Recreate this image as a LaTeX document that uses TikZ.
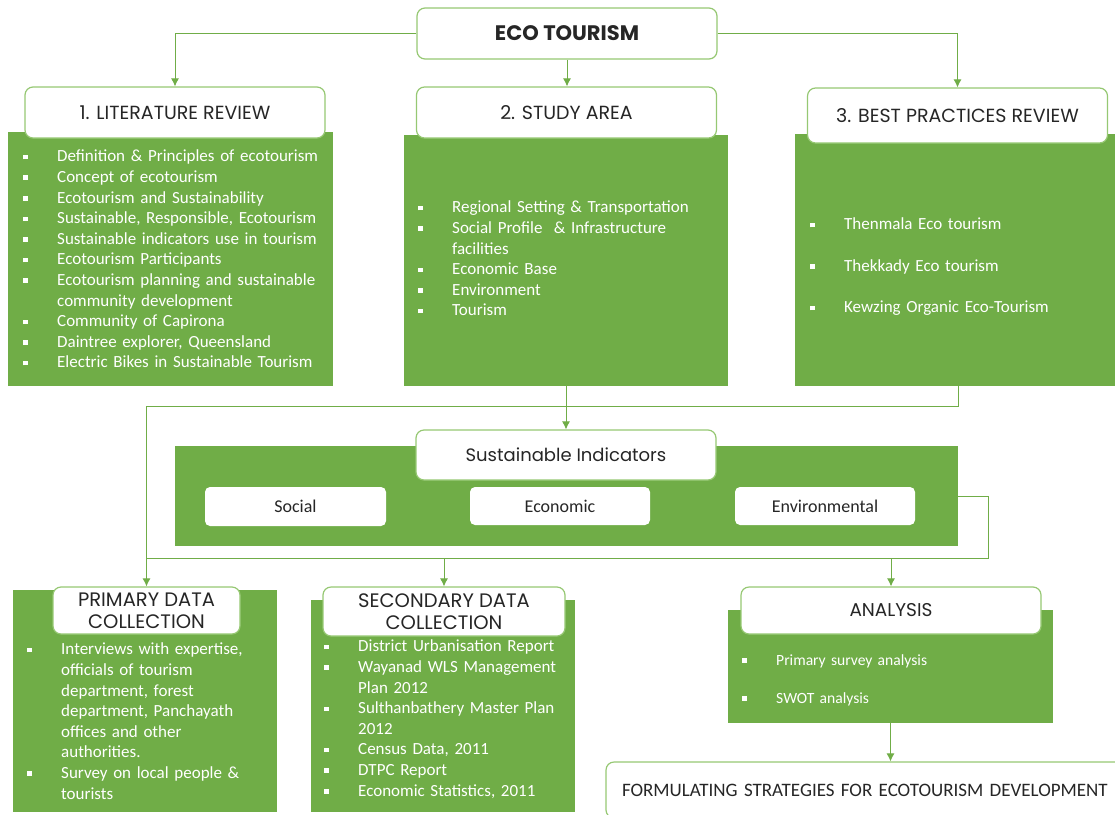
\documentclass[tikz,border=0pt]{standalone}
\usepackage{fontspec}
\setmainfont{Carlito}
\newfontfamily\gotica{Poppins}
\usetikzlibrary{positioning,arrows.meta}
\definecolor{verde}{RGB}{112,173,71}
\definecolor{bordeverde}{RGB}{150,200,115}
\definecolor{tinta}{RGB}{38,38,38}

% lista con cuadraditos blancos
\newenvironment{puntos}[2][0pt]{%
  \begin{list}{\rule[0.3ex]{4.5pt}{4.5pt}}{%
    \setlength{\leftmargin}{#2}\setlength{\labelwidth}{#2}%
    \setlength{\labelsep}{0pt}\setlength{\itemsep}{#1}%
    \setlength{\parsep}{0pt}\setlength{\topsep}{0pt}\setlength{\partopsep}{0pt}%
    \renewcommand{\makelabel}[1]{##1\hfil}}}%
  {\end{list}}

\begin{document}
\begin{tikzpicture}[x=1pt,y=-1pt]
\tikzset{
    panel/.style={rectangle, fill=verde, draw=none, inner sep=0pt, outer sep=0pt},
    cabecera/.style={rectangle, rounded corners=8pt, draw=bordeverde, fill=white, line width=1.2pt,
                     inner sep=0pt, minimum width=300pt, minimum height=51pt, align=center,
                     text=tinta, font=\gotica\fontsize{19}{22}\selectfont},
    indicador/.style={rectangle, rounded corners=5pt, fill=white, draw=none, inner sep=0pt,
                      minimum width=180pt, minimum height=38pt, text=tinta, font=\fontsize{18}{20}\selectfont},
    lista/.style={anchor=north west, inner sep=0pt, text=white, align=left,
                  font=\fontsize{17}{20.6}\selectfont},
    flecha/.style={-{Latex[length=8pt,width=8pt]}, draw=verde, line width=1pt},
    linea/.style={draw=verde, line width=1pt}
}
\useasboundingbox (0,0) rectangle (1115,814);

% cabecera principal
\node[cabecera, font=\gotica\bfseries\fontsize{21}{24}\selectfont] (eco) at (567,33.5) {ECO TOURISM};

% 1. literature review
\node[panel, minimum width=325pt, minimum height=254pt] (litpanel) at (170.5,259) {};
\node[cabecera] (lithead) at (175,112.5) {1. LITERATURE REVIEW};
\node[lista, text width=310pt] (litlist) at (23,141) {\begin{puntos}{34pt}
  \item Definition \& Principles of ecotourism
  \item Concept of ecotourism
  \item Ecotourism and Sustainability
  \item Sustainable, Responsible, Ecotourism
  \item Sustainable indicators use in tourism
  \item Ecotourism Participants
  \item Ecotourism planning and sustainable\newline community development
  \item Community of Capirona
  \item Daintree explorer, Queensland
  \item Electric Bikes in Sustainable Tourism
\end{puntos}};

% 2. study area
\node[panel, minimum width=324pt, minimum height=251pt] (studypanel) at (566,260.5) {};
\node[cabecera] (studyhead) at (566.5,112.5) {2. STUDY AREA};
\node[lista, text width=300pt] (studylist) at (418,192) {\begin{puntos}{34pt}
  \item Regional Setting \& Transportation
  \item Social Profile \ \& Infrastructure\newline facilities
  \item Economic Base
  \item Environment
  \item Tourism
\end{puntos}};

% 3. best practices
\node[panel, minimum width=320pt, minimum height=252pt] (bestpanel) at (955,260) {};
\node[cabecera, minimum height=55pt] (besthead) at (957.5,115.5) {3. BEST PRACTICES REVIEW};
\node[lista, text width=290pt] (bestlist) at (810,209) {\begin{puntos}[20.9pt]{34pt}
  \item Thenmala Eco tourism
  \item Thekkady Eco tourism
  \item Kewzing Organic Eco-Tourism
\end{puntos}};

% indicadores
\node[panel, minimum width=783pt, minimum height=100pt] (band) at (566.5,496) {};
\node[cabecera, minimum height=50pt, font=\gotica\fontsize{18}{20}\selectfont] (sushead) at (566,455) {Sustainable Indicators};
\node[indicador, minimum width=181pt, minimum height=39pt] (social) at (295.5,506.5) {Social};
\node[indicador] (economic) at (560,506) {Economic};
\node[indicador] (environ) at (825,506) {Environmental};

% recogida de datos
\node[panel, minimum width=264pt, minimum height=222pt] (primpanel) at (145,701) {};
\node[cabecera, minimum width=187pt, minimum height=47pt, font=\gotica\fontsize{19.5}{22}\selectfont] (primhead) at (146.5,610.5) {PRIMARY DATA\\COLLECTION};
\node[lista, text width=250pt] (primlist) at (27,634) {\begin{puntos}{34pt}
  \item Interviews with expertise,\newline officials of tourism\newline department, forest\newline department, Panchayath\newline offices and other\newline authorities.
  \item Survey on local people \&\newline tourists
\end{puntos}};

\node[panel, minimum width=264pt, minimum height=212pt] (secpanel) at (443,706) {};
\node[cabecera, minimum width=242pt, minimum height=49pt, font=\gotica\fontsize{19.5}{22}\selectfont] (sechead) at (444,611.5) {SECONDARY DATA\\COLLECTION};
\node[lista, text width=250pt] (seclist) at (324,631) {\begin{puntos}{34pt}
  \item District Urbanisation Report
  \item Wayanad WLS Management\newline Plan 2012
  \item Sulthanbathery Master Plan\newline 2012
  \item Census Data, 2011
  \item DTPC Report
  \item Economic Statistics, 2011
\end{puntos}};

% analisis
\node[panel, minimum width=325pt, minimum height=113pt] (anapanel) at (890.5,666.5) {};
\node[cabecera, minimum height=47pt, font=\gotica\fontsize{18.5}{22}\selectfont] (anahead) at (891,610.5) {ANALYSIS};
\node[lista, text width=280pt, font=\fontsize{15.6}{18}\selectfont] (analist) at (742,647) {\begin{puntos}[20pt]{34pt}
  \item Primary survey analysis
  \item SWOT analysis
\end{puntos}};

% estrategias
\node[cabecera, minimum width=527pt, minimum height=56pt, text width=495pt, inner xsep=16pt,
      align=left, font=\fontsize{19}{22}\selectfont] (formbox) at (869.5,790) {FORMULATING STRATEGIES FOR ECOTOURISM DEVELOPMENT};

% conectores
\draw[flecha] (eco.west) -| (lithead.north);
\draw[flecha] (eco.south) -- (eco.south |- studyhead.north);
\draw[flecha] (eco.east) -| (besthead.north);
\draw[flecha] (studypanel.south) -- (studypanel.south |- sushead.north);
\coordinate (giro) at (958,406);
\draw[flecha] (giro |- bestpanel.south) -- (giro) -| (primhead.north);
\coordinate (nudo) at (988,558);
\draw[linea] (band.east) -| (nudo) -- (nudo -| primhead.north);
\draw[flecha] (nudo -| sechead.north) -- (sechead.north);
\draw[flecha] (nudo -| anahead.north) -- (anahead.north);
\draw[flecha] (anapanel.south) -- (anapanel.south |- formbox.north);

\end{tikzpicture}
\end{document}
